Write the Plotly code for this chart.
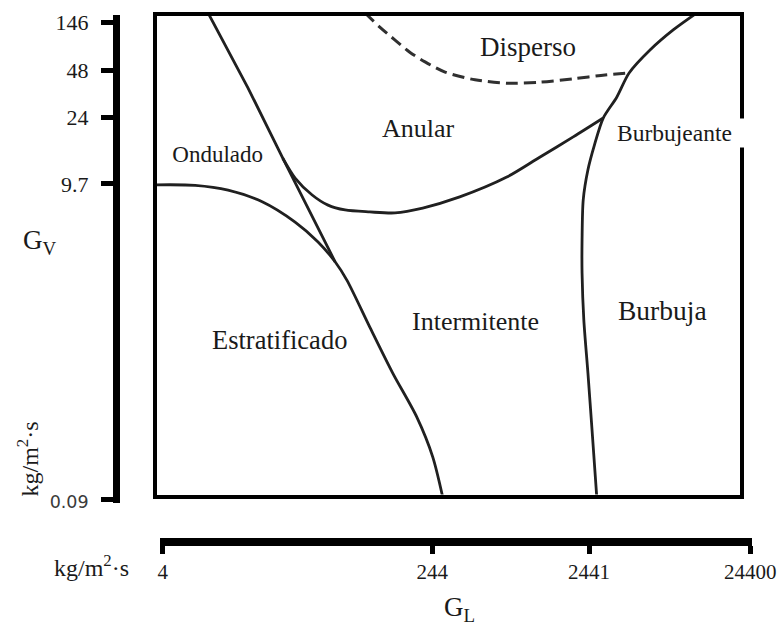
import plotly.graph_objects as go

# Regime boundaries of the flow map, in diagram units (0-100 across the frame)
estratificado_x = [0, 7.0, 12.6, 18.4, 24.0, 27.9, 30.8, 32.8, 36.7, 40.6, 44.7, 47.4, 49.1]
estratificado_y = [64.5, 64.4, 63.4, 61.0, 56.8, 52.7, 48.6, 44.8, 35.1, 25.6, 16.5, 8.3, 0]

ondulado_x = [9.2, 16.0, 21.9, 26.2, 30.8]
ondulado_y = [100, 84.5, 70.0, 59.7, 48.6]

anular_x = [21.9, 24.0, 26.9, 29.6, 32.5, 36.7, 41.0, 45.7, 52.0, 60.0, 65.6, 71.3, 76.4]
anular_y = [70.0, 65.9, 62.4, 60.3, 59.3, 58.9, 58.7, 59.7, 62.0, 66.1, 70.2, 74.4, 78.3]

burbuja_x = [75.3, 74.5, 73.8, 73.1, 72.8, 72.8, 73.0, 73.8, 74.9, 76.4, 78.7, 80.8, 84.4, 88.3, 92.3]
burbuja_y = [0, 13.8, 25.6, 36.6, 46.3, 53.1, 61.4, 67.6, 72.7, 78.3, 82.6, 87.6, 92.4, 96.5, 100]

disperso_x = [35.9, 38.4, 41.0, 43.5, 46.1, 49.5, 54.6, 60.0, 65.6, 71.3, 76.7, 80.8]
disperso_y = [100, 97.1, 94.4, 91.9, 89.9, 87.8, 86.2, 85.5, 85.7, 86.4, 87.2, 87.6]

# Region names and where they sit on the map
regiones = ["Disperso", "Anular", "Intermitente", "Burbuja", "Estratificado"]
regiones_x = [63.6, 44.9, 54.6, 86.4, 21.4]
regiones_y = [92.9, 76.2, 36.2, 38.6, 32.4]
regiones_size = [27, 26, 26, 27.5, 26.5]

# Axis scales (mass fluxes, kg/m2 s)
gl_labels = ["4", "244", "2441", "24400"]
gl_pos = [1.5, 47.3, 74.0, 101.4]
gv_labels = ["146", "48", "24", "9.7",
             "<span style='font-family:DejaVu Sans;font-size:17.5px;color:#3a3a3a'>0.09</span>"]
gv_pos = [98.1, 88.2, 78.5, 64.7, -0.6]

SERIF = "Liberation Serif"
INK = "#1a1a1a"

fig = go.Figure()

curve = dict(color="#202020", width=2.8)
for xs, ys, shape in [(estratificado_x, estratificado_y, "spline"),
                      (ondulado_x, ondulado_y, "linear"),
                      (anular_x, anular_y, "spline"),
                      (burbuja_x, burbuja_y, "spline")]:
    fig.add_trace(go.Scatter(x=xs, y=ys, mode="lines",
                             line=dict(curve, shape=shape, smoothing=0.8),
                             hoverinfo="skip", showlegend=False))

fig.add_trace(go.Scatter(x=disperso_x, y=disperso_y, mode="lines",
                         line=dict(color="#303030", width=3, dash="12px,6px",
                                   shape="spline", smoothing=0.8),
                         hoverinfo="skip", showlegend=False))

# carrier trace for the detached scale axes
fig.add_trace(go.Scatter(x=[], y=[], xaxis="x2", yaxis="y2",
                         hoverinfo="skip", showlegend=False))

annotations = []
for name, x, y, s in zip(regiones, regiones_x, regiones_y, regiones_size):
    annotations.append(dict(x=x, y=y, xref="x", yref="y", text=name, showarrow=False,
                            xanchor="center", yanchor="middle",
                            font=dict(family=SERIF, size=s, color=INK)))

# small labels on white boxes
annotations.append(dict(x=0.5, y=70.7, xref="x", yref="y", text="Ondulado", showarrow=False,
                        xanchor="left", yanchor="middle", width=104, align="right",
                        bgcolor="white", borderpad=1,
                        font=dict(family=SERIF, size=23, color=INK)))
annotations.append(dict(x=78.4, y=75.2, xref="x", yref="y", text="Burbujeante", showarrow=False,
                        xanchor="left", yanchor="middle", width=128, align="left",
                        bgcolor="white", borderpad=1,
                        font=dict(family=SERIF, size=23.5, color=INK)))

# axis titles and units
def paper_text(text, px, py, size, angle=0):
    return dict(x=px / 780, y=1 - py / 626, xref="paper", yref="paper", text=text,
                showarrow=False, xanchor="center", yanchor="middle", textangle=angle,
                font=dict(family=SERIF, size=size, color=INK))

annotations += [
    paper_text("G<sub>V</sub>", 40, 242, 27),
    paper_text("kg/m<sup>2</sup>·s", 27.5, 459, 24, -90),
    paper_text("kg/m<sup>2</sup>·s", 91, 566, 24),
    paper_text("G<sub>L</sub>", 459, 609, 27),
]

frame = dict(showline=True, mirror=True, linecolor="black", linewidth=4,
             showgrid=False, zeroline=False, showticklabels=False, ticks="",
             automargin=False)

fig.update_layout(
    width=780, height=626, autosize=False,
    margin=dict(l=0, r=0, t=0, b=0, pad=0, autoexpand=False),
    paper_bgcolor="white", plot_bgcolor="rgba(0,0,0,0)",
    xaxis=dict(domain=[156.7 / 780, 739.7 / 780], range=[0.46, 99.61], **frame),
    yaxis=dict(domain=[131.5 / 626, 610.2 / 626], range=[0.52, 99.42], **frame),
    xaxis2=dict(domain=[160 / 780, 752 / 780], anchor="free", position=84 / 626,
                range=[1.02, 101.7], side="bottom", automargin=False,
                showline=True, linecolor="black", linewidth=8,
                ticks="outside", ticklen=8, tickwidth=5, tickcolor="black",
                tickvals=gl_pos, ticktext=gl_labels,
                tickfont=dict(family=SERIF, size=21, color=INK),
                showgrid=False, zeroline=False),
    yaxis2=dict(domain=[123 / 626, 611 / 626], anchor="free", position=116 / 780,
                range=[-1.24, 99.59], side="left", automargin=False,
                showline=True, linecolor="black", linewidth=7,
                ticks="outside", ticklen=12, tickwidth=4.5, tickcolor="black",
                ticklabelstandoff=8,
                tickvals=gv_pos, ticktext=gv_labels,
                tickfont=dict(family=SERIF, size=22, color=INK),
                showgrid=False, zeroline=False),
    annotations=annotations,
)

fig.write_html("out.html")
